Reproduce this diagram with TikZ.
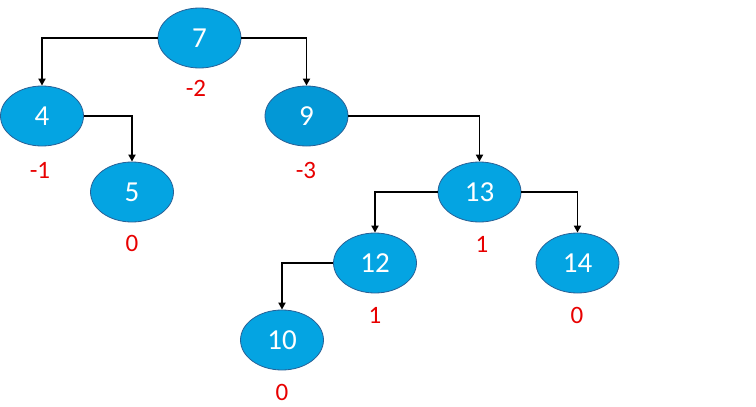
\documentclass[tikz,border=0pt]{standalone}
\usepackage{fontspec}
\setmainfont{Carlito}
\usetikzlibrary{arrows.meta,shapes.geometric}
\definecolor{nodefill}{RGB}{4,164,226}
\definecolor{nodefilldark}{RGB}{3,152,214}
\definecolor{nodeline}{RGB}{40,96,150}
\definecolor{balred}{RGB}{232,0,0}
\begin{document}
\begin{tikzpicture}[x=1pt,y=-1pt,
  treenode/.style={ellipse,draw=nodeline,line width=0.8pt,fill=nodefill,minimum width=83pt,minimum height=60pt,inner sep=0pt,text=white,font=\fontsize{29}{29}\selectfont},
  bal/.style={text=balred,font=\fontsize{25}{25}\selectfont,inner sep=0pt},
  edge/.style={draw=black,line width=1.8pt,-{Triangle[width=7pt,length=7pt]}}]
\useasboundingbox (0,0) rectangle (756,407);
\fill[white] (0,0) rectangle (756,407);
\node[treenode] (n7) at (199.5,38) {7};
\node[treenode] (n4) at (42,116) {4};
\node[treenode,fill=nodefilldark] (n9) at (306.5,116) {9};
\node[treenode] (n5) at (132,192) {5};
\node[treenode] (n13) at (479.5,192) {13};
\node[treenode] (n12) at (375,263) {12};
\node[treenode] (n14) at (577.5,263) {14};
\node[treenode] (n10) at (282,340) {10};
\node[bal] (b7) at (196,88) {-2};
\node[bal] (b4) at (40,170) {-1};
\node[bal] (b9) at (306,170) {-3};
\node[bal] (b5) at (132,243) {0};
\node[bal] (b13) at (482,244) {1};
\node[bal] (b12) at (375,315) {1};
\node[bal] (b14) at (577,315) {0};
\node[bal] (b10) at (282,392) {0};
\draw[edge] (n7.west) -| (n4.north);
\draw[edge] (n7.east) -| (n9.north);
\draw[edge] (n4.east) -| (n5.north);
\draw[edge] (n9.east) -| (n13.north);
\draw[edge] (n13.west) -| (n12.north);
\draw[edge] (n13.east) -| (n14.north);
\draw[edge] (n12.west) -| (n10.north);
\end{tikzpicture}
\end{document}
